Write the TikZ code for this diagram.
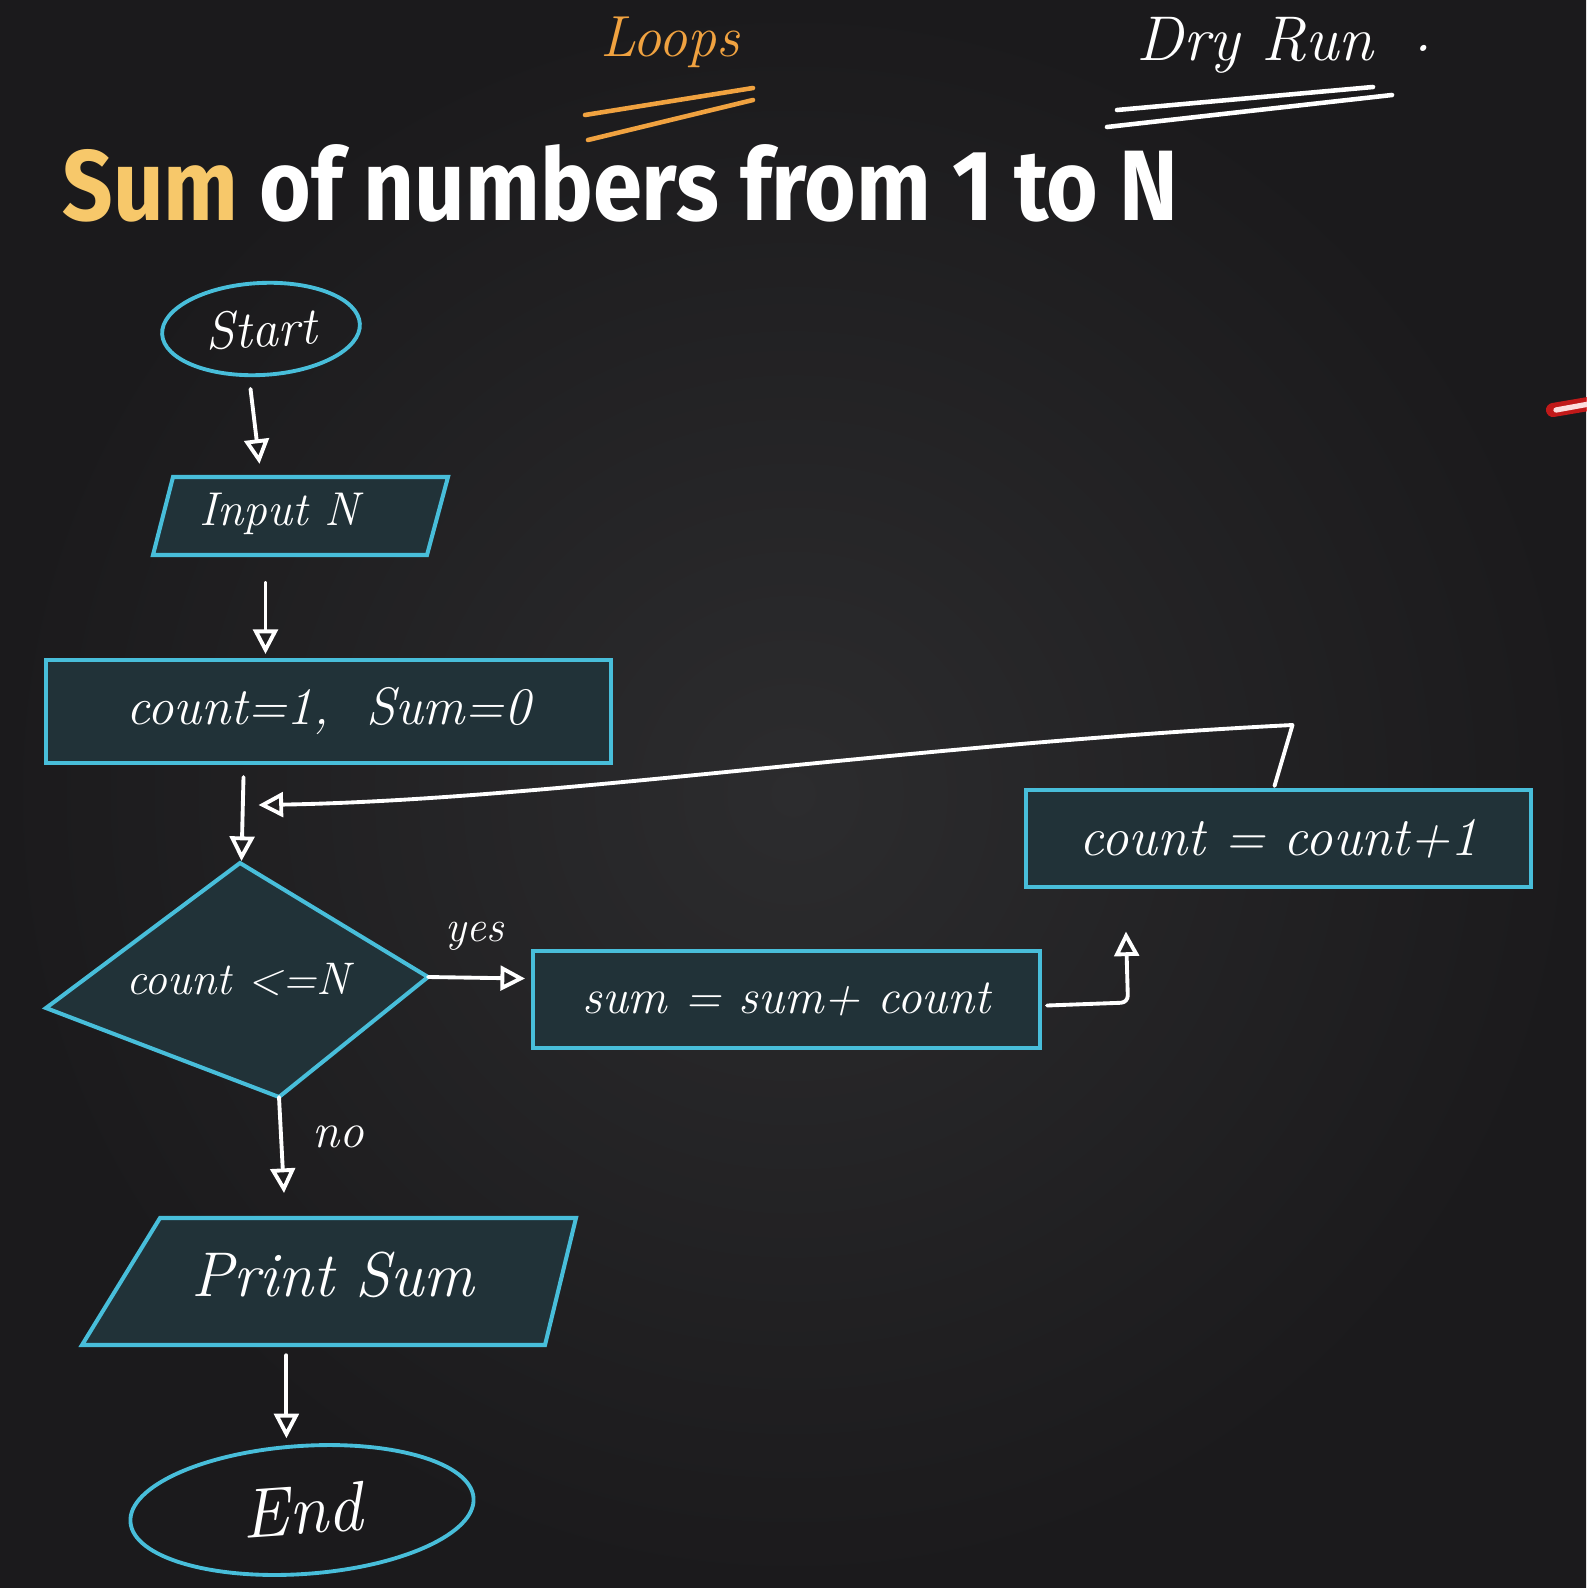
\documentclass[tikz,border=0pt]{standalone}
\usepackage{fontspec}
\usepackage{graphicx}
\usetikzlibrary{arrows.meta,shapes.geometric,positioning,calc}

\newfontfamily\titlefont{Fira Sans}
\newcommand{\hand}[1]{\fontsize{#1}{#1}\selectfont\itshape}

\definecolor{board}{RGB}{27,26,28}
\definecolor{boardlight}{RGB}{44,44,46}
\definecolor{boxfill}{RGB}{33,50,56}
\definecolor{chalkcyan}{RGB}{72,190,218}
\definecolor{chalkorange}{RGB}{240,162,64}
\definecolor{titleyellow}{RGB}{247,200,106}
\definecolor{pointer}{RGB}{235,25,25}

\tikzset{
    box/.style={draw=chalkcyan, line width=2.3pt, fill=boxfill},
    term/.style={ellipse, draw=chalkcyan, line width=2.2pt, inner sep=0pt},
    hw/.style={text=white, inner sep=0pt},
    flow/.style={draw=white, line width=2.2pt, line cap=round, line join=round,
        -{Triangle[open,length=14pt,width=14pt]}},
    uline/.style={line width=2.6pt, line cap=round},
}

\begin{document}
\begin{tikzpicture}[x=0.02cm, y=-0.02cm]

    % --- board ---
                \useasboundingbox (0,0) rectangle (1586,1588);
                \shade[inner color=boardlight, outer color=board] (0,0) rectangle (1586,1588);

    % --- heading and notes ---
                \node[anchor=base west, inner sep=0pt, text=white] (title) at (62,220)
                    {\resizebox{22.32cm}{1.52cm}{\titlefont\bfseries\textcolor{titleyellow}{Sum} of numbers from 1 to N}};
                \node[hw, text=chalkorange, font={\hand{33}}] (loops) at (670,42) {Loops};
                \draw[chalkorange, uline] (585,115) -- (753,88);
                \draw[chalkorange, uline] (588,140) -- (753,100);
                \node[hw, font={\hand{36}}] (dryrun) at (1255,45) {Dry Run};
                \node[hw, anchor=base, font={\hand{36}}] (dot) at (1423,52) {.};
                \draw[white, uline] (1117,110) -- (1373,87);
                \draw[white, uline] (1107,127) -- (1392,95);

    % --- red pointer mark ---
                \draw[pointer, line width=8pt, line cap=round, opacity=0.8] (1553,410) -- (1600,402);
                \draw[white!85!pointer, line width=3pt, line cap=round] (1556,410) -- (1600,402);

    % --- corners of the hand drawn shapes ---
                \coordinate (c-top)   at (240,863);
                \coordinate (c-right) at (428,977);
                \coordinate (c-bot)   at (279,1097);
                \coordinate (c-left)  at (46,1008);

    % --- shapes ---
                \node[term, hw, font={\hand{30}}, minimum width=3.96cm, minimum height=1.84cm, rotate=3] (start) at (261,329) {Start};

                \draw[box] (173,477) -- (448,477) -- (427,555) -- (153,555) -- cycle;
                \node[hw, font={\hand{27}}] (input) at (279,514) {Input N};

                \node[box, hw, font={\hand{30}}, minimum width=11.3cm, minimum height=2.06cm] (init) at (328.5,711.5) {count=1, \ Sum=0};

                \draw[box] (c-top) -- (c-right) -- (c-bot) -- (c-left) -- cycle;
                \node[hw, font={\hand{26}}] (cond) at (238,980) {count <=N};

                \node[box, hw, font={\hand{28}}, minimum width=10.14cm, minimum height=1.94cm] (body) at (786.5,999.5) {sum = sum+ count};
                \node[box, hw, font={\hand{31}}, minimum width=10.1cm, minimum height=1.94cm] (step) at (1278.5,838.5) {count = count+1};

                \draw[box] (160,1218) -- (576,1218) -- (545,1345) -- (82,1345) -- cycle;
                \node[hw, font={\hand{36}}] (output) at (333,1275) {Print Sum};

                \node[term, hw, font={\hand{40}}, minimum width=6.88cm, minimum height=2.56cm, rotate=4] (stop) at (302,1510) {End};

    % --- connectors ---
                \draw[flow] ($(start.south)+(-13,12)$) -- ($(start.south)+(-4,87)$);
                \draw[flow] ($(init.north)+(-63,-75)$) -- ($(init.north)+(-63,-4)$);
                \draw[flow] ($(init.south)+(-85,12)$) -- ($(init.south)+(-87,96)$);
                \draw[flow] ($(step.north)+(-4,-2)$) -- ++(18,-61)
                    .. controls (900,745) and (550,800) .. ($(init.south)+(-70,40)$);
                \draw[flow] (c-right) -- ($(body.west)+(-6,-21)$);
                \draw[flow, rounded corners=4pt] ($(body.east)+(5,6)$) -- ++(81,-3) -- ++(-2,-71);
                \draw[flow] (c-bot) -- ++(5,96);
                \draw[flow] ($(stop.north)+(-11,-89)$) -- ($(stop.north)+(-11,-6)$);

    % --- labels ---
                \node[hw, font={\hand{25}}] (yes) at (475,936) {yes};
                \node[hw, font={\hand{28}}] (no) at (338,1137) {no};

\end{tikzpicture}
\end{document}
